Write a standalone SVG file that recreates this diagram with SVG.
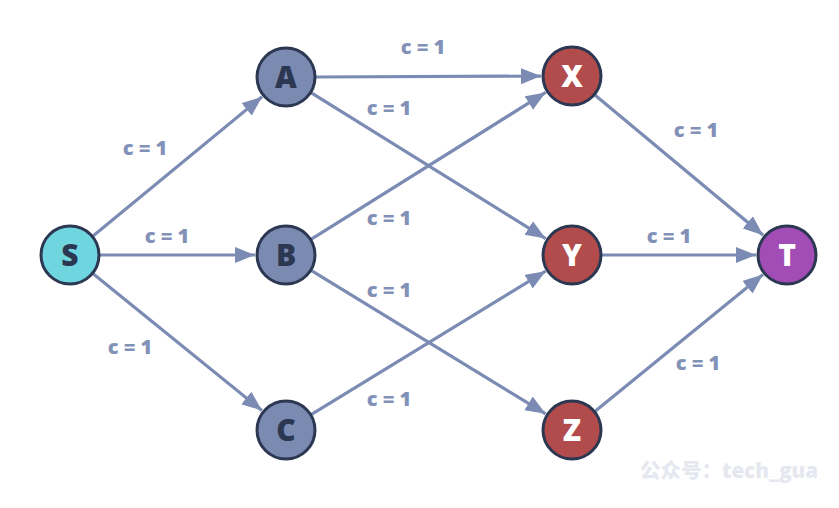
<svg xmlns="http://www.w3.org/2000/svg" width="839" height="508" viewBox="0 0 839 508">
<style>
.e{stroke:#7b8bb3;stroke-width:3.2;fill:none;marker-end:url(#ah)}
.lbl{font-family:"Open Sans","Liberation Sans",sans-serif;font-weight:800;font-size:20px;fill:#8291b8;text-anchor:middle}
.n circle{stroke:#2c3752;stroke-width:3}
.n text{font-family:"Open Sans","Liberation Sans",sans-serif;font-weight:800;font-size:30px;text-anchor:middle}
.dk{fill:#2c3752}
.wt{fill:#ffffff}
.wm{font-family:"Open Sans","Noto Sans CJK SC",sans-serif;font-weight:800;font-size:20.5px;fill:#e5e8f0}
</style>
<defs>
<marker id="ah" markerUnits="userSpaceOnUse" markerWidth="22" markerHeight="18" refX="20" refY="8" orient="auto">
<path d="M0,0 L20,8 L0,16 z" fill="#7b8bb3"/>
</marker>
</defs>
<rect width="839" height="508" fill="#ffffff"/>
<g id="connectors">
<line class="e" x1="92.4" y1="236.6" x2="262.1" y2="96.7"/>
<line class="e" x1="99" y1="255" x2="255" y2="255"/>
<line class="e" x1="92.5" y1="273.3" x2="261.9" y2="410.5"/>
<line class="e" x1="315" y1="77" x2="541" y2="76.1"/>
<line class="e" x1="310.6" y1="92.3" x2="545.7" y2="238.6"/>
<line class="e" x1="310.6" y1="239.6" x2="545.7" y2="92.4"/>
<line class="e" x1="310.7" y1="270.1" x2="545.6" y2="413.8"/>
<line class="e" x1="310.7" y1="414.9" x2="545.6" y2="271.2"/>
<line class="e" x1="594.3" y1="94.6" x2="763.2" y2="235.2"/>
<line class="e" x1="601" y1="255" x2="756" y2="255"/>
<line class="e" x1="594.5" y1="411.7" x2="763" y2="274.6"/>
<text class="lbl" x="145" y="155">c = 1</text>
<text class="lbl" x="167" y="243">c = 1</text>
<text class="lbl" x="130" y="354">c = 1</text>
<text class="lbl" x="423" y="54">c = 1</text>
<text class="lbl" x="389" y="115">c = 1</text>
<text class="lbl" x="389" y="225">c = 1</text>
<text class="lbl" x="389" y="297">c = 1</text>
<text class="lbl" x="389" y="406">c = 1</text>
<text class="lbl" x="696" y="137">c = 1</text>
<text class="lbl" x="669" y="243">c = 1</text>
<text class="lbl" x="698" y="370">c = 1</text>
</g>
<g id="S" class="n"><circle cx="70" cy="255" r="29" fill="#6fd6e0"/><text class="dk" x="70" y="266">S</text></g>
<g id="A" class="n"><circle cx="286" cy="77" r="29" fill="#7b8ab1"/><text class="dk" x="286" y="88">A</text></g>
<g id="B" class="n"><circle cx="286" cy="255" r="29" fill="#7b8ab1"/><text class="dk" x="286" y="266">B</text></g>
<g id="C" class="n"><circle cx="286" cy="430" r="29" fill="#7b8ab1"/><text class="dk" x="286" y="441">C</text></g>
<g id="X" class="n"><circle cx="572" cy="76" r="29" fill="#b24c4c"/><text class="wt" x="572" y="87">X</text></g>
<g id="Y" class="n"><circle cx="572" cy="255" r="29" fill="#b24c4c"/><text class="wt" x="572" y="266">Y</text></g>
<g id="Z" class="n"><circle cx="572" cy="430" r="29" fill="#b24c4c"/><text class="wt" x="572" y="441">Z</text></g>
<g id="T" class="n"><circle cx="787" cy="255" r="29" fill="#a24db6"/><text class="wt" x="787" y="266">T</text></g>
<text class="wm" x="640" y="478">公众号：tech_gua</text>
</svg>
